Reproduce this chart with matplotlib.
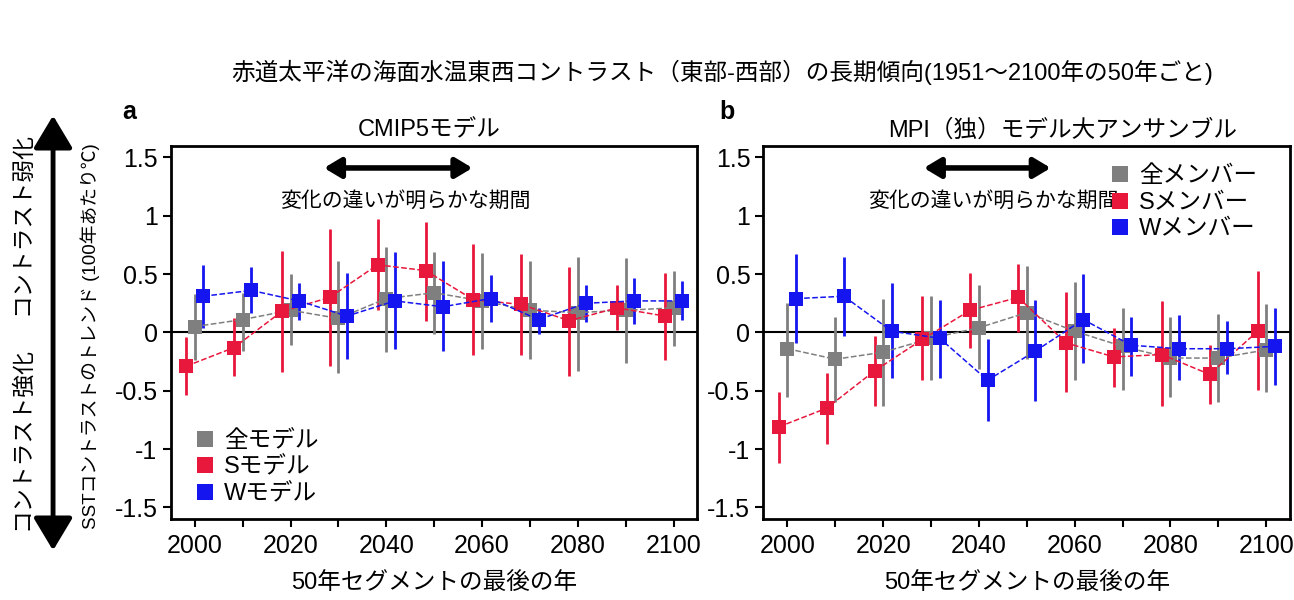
import matplotlib
matplotlib.use('Agg')
import matplotlib.pyplot as plt
from matplotlib.lines import Line2D
import numpy as np

plt.rcParams['font.family'] = ['Liberation Sans', 'Noto Sans CJK JP']

# end year of each 50-year segment
years = np.arange(2000, 2101, 10)

# panel a: CMIP5 models (value, lower end, upper end)
a_all = [0.05, 0.11, 0.19, 0.12, 0.29, 0.34, 0.27, 0.19, 0.17, 0.19, 0.21]
a_all_lo = [-0.24, -0.16, -0.11, -0.35, -0.17, -0.01, -0.14, -0.23, -0.33, -0.26, -0.12]
a_all_hi = [0.33, 0.34, 0.50, 0.61, 0.73, 0.69, 0.68, 0.61, 0.65, 0.64, 0.53]
a_s = [-0.29, -0.13, 0.18, 0.30, 0.58, 0.53, 0.28, 0.24, 0.10, 0.21, 0.14]
a_s_lo = [-0.54, -0.37, -0.34, -0.29, 0.19, 0.10, -0.19, -0.19, -0.37, 0.02, -0.24]
a_s_hi = [-0.04, 0.12, 0.70, 0.89, 0.97, 0.95, 0.76, 0.67, 0.56, 0.41, 0.51]
a_w = [0.31, 0.36, 0.27, 0.14, 0.27, 0.22, 0.29, 0.11, 0.25, 0.27, 0.27]
a_w_lo = [0.04, 0.17, 0.11, -0.23, -0.14, -0.16, 0.09, -0.01, 0.09, 0.07, 0.11]
a_w_hi = [0.58, 0.56, 0.42, 0.51, 0.69, 0.61, 0.49, 0.21, 0.41, 0.47, 0.44]

# panel b: MPI large ensemble
b_all = [-0.14, -0.23, -0.17, -0.05, 0.04, 0.17, 0.01, -0.12, -0.22, -0.22, -0.15]
b_all_lo = [-0.55, -0.60, -0.63, -0.41, -0.31, -0.23, -0.41, -0.49, -0.55, -0.60, -0.51]
b_all_hi = [0.25, 0.13, 0.29, 0.31, 0.41, 0.57, 0.43, 0.21, 0.13, 0.16, 0.24]
b_s = [-0.81, -0.65, -0.33, -0.06, 0.19, 0.30, -0.09, -0.21, -0.19, -0.36, 0.01]
b_s_lo = [-1.12, -0.96, -0.63, -0.41, -0.13, 0.00, -0.51, -0.47, -0.63, -0.61, -0.49]
b_s_hi = [-0.51, -0.35, -0.03, 0.31, 0.51, 0.59, 0.35, 0.04, 0.27, -0.11, 0.53]
b_w = [0.29, 0.31, 0.01, -0.05, -0.41, -0.16, 0.11, -0.11, -0.14, -0.14, -0.12]
b_w_lo = [-0.09, -0.03, -0.39, -0.39, -0.76, -0.59, -0.26, -0.37, -0.41, -0.36, -0.45]
b_w_hi = [0.67, 0.65, 0.42, 0.28, -0.06, 0.28, 0.50, 0.13, 0.15, 0.10, 0.21]

c_gray = '#7f7f7f'
c_red = '#e8173c'
c_blue = '#1515f0'


def draw(ax, series):
    offsets = [0.0, -1.8, 1.8]
    colors = [c_gray, c_red, c_blue]
    for (v, lo, hi), off, c in zip(series, offsets, colors):
        v = np.array(v)
        err = [v - np.array(lo), np.array(hi) - v]
        ax.errorbar(years + off, v, yerr=err, fmt='s', ls='--', lw=1.1,
                    color=c, ecolor=c, elinewidth=2, capsize=0,
                    markersize=10, markeredgewidth=0)
    ax.axhline(0, color='black', lw=1.5, zorder=0)
    ax.set_xlim(1995, 2105)
    ax.set_ylim(-1.6, 1.6)
    ax.set_xticks(np.arange(2000, 2101, 20))
    ax.set_xticks(np.arange(2010, 2100, 20), minor=True)
    ax.set_yticks([-1.5, -1, -0.5, 0, 0.5, 1, 1.5])
    ax.set_yticklabels(['-1.5', '-1', '-0.5', '0', '0.5', '1', '1.5'])
    ax.tick_params(which='both', direction='out', length=6, width=1.5, labelsize=18)
    ax.tick_params(axis='x', pad=5)
    for s in ax.spines.values():
        s.set_linewidth(2)
    ax.set_xlabel('50年セグメントの最後の年', fontsize=17, labelpad=10)
    handles = [Line2D([], [], marker='s', ls='none', color=c, markersize=11.5,
                      markeredgewidth=0) for c in colors]
    return handles


fig = plt.figure(figsize=(12.94, 6), dpi=100)
ax1 = fig.add_axes([0.132, 0.135, 0.407, 0.622])
ax2 = fig.add_axes([0.590, 0.135, 0.407, 0.622])

h1 = draw(ax1, [(a_all, a_all_lo, a_all_hi), (a_s, a_s_lo, a_s_hi), (a_w, a_w_lo, a_w_hi)])
h2 = draw(ax2, [(b_all, b_all_lo, b_all_hi), (b_s, b_s_lo, b_s_hi), (b_w, b_w_lo, b_w_hi)])

ax1.legend(h1, ['全モデル', 'Sモデル', 'Wモデル'], loc='lower left',
           bbox_to_anchor=(0.007, -0.02), frameon=False, fontsize=17,
           handlelength=0.8, handletextpad=0.4, labelspacing=0.2)
ax2.legend(h2, ['全メンバー', 'Sメンバー', 'Wメンバー'], loc='upper left',
           bbox_to_anchor=(0.619, 1.005), frameon=False, fontsize=17,
           handlelength=0.8, handletextpad=0.4, labelspacing=0.2)

# "clear difference" period arrows
for ax, x0, x1, xt in [(ax1, 2027, 2058, 2044), (ax2, 2028.5, 2055, 2043)]:
    ax.annotate('', xy=(x0, 1.41), xytext=(x1, 1.41),
                arrowprops=dict(arrowstyle='<|-|>,head_length=1.0,head_width=0.6',
                                color='black', lw=4, shrinkA=0, shrinkB=0))
    ax.text(xt, 1.13, '変化の違いが明らかな期間', ha='center', va='center', fontsize=15)

fig.text(0.558, 0.88, '赤道太平洋の海面水温東西コントラスト（東部-西部）の長期傾向(1951〜2100年の50年ごと)',
         ha='center', va='center', fontsize=17)
fig.text(0.332, 0.783, 'CMIP5モデル', ha='center', va='center', fontsize=17)
fig.text(0.821, 0.783, 'MPI（独）モデル大アンサンブル', ha='center', va='center', fontsize=17)
fig.text(0.100, 0.813, 'a', ha='center', va='center', fontsize=18, fontweight='bold')
fig.text(0.562, 0.813, 'b', ha='center', va='center', fontsize=18, fontweight='bold')

fig.text(0.070, 0.44, 'SSTコントラストのトレンド (100年あたり℃)', rotation=90,
         ha='center', va='center', fontsize=13.5)
fig.text(0.017, 0.628, 'コントラスト弱化', rotation=90, ha='center', va='center', fontsize=16.5)
fig.text(0.017, 0.27, 'コントラスト強化', rotation=90, ha='center', va='center', fontsize=16.5)
fig.add_artist(matplotlib.patches.FancyArrowPatch(
    (0.041, 0.812), (0.041, 0.078), transform=fig.transFigure,
    arrowstyle='<|-|>,head_length=10,head_width=6', color='black', lw=3.5,
    mutation_scale=2))

fig.savefig('out.png', dpi=100)
